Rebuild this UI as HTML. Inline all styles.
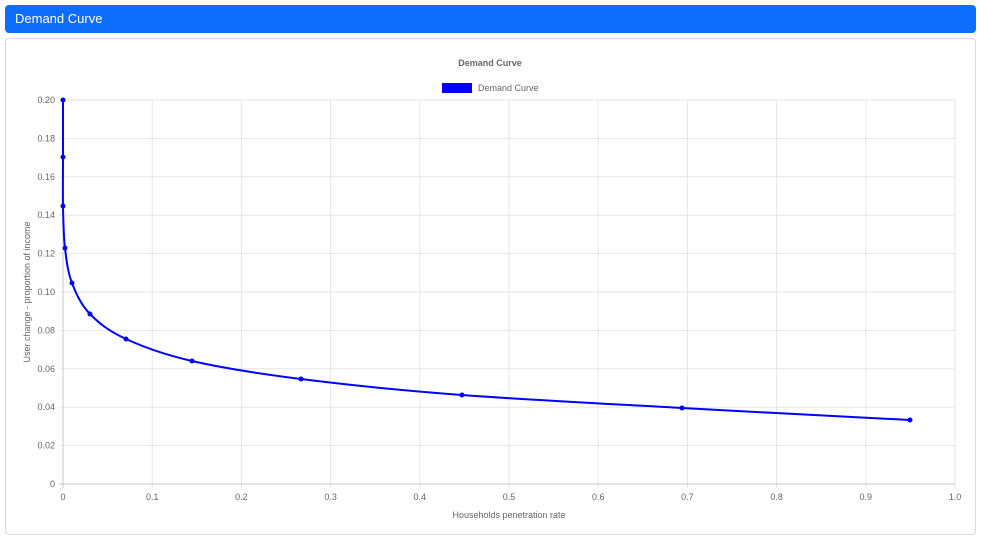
<!DOCTYPE html>
<html><head><style>
body{margin:0;width:987px;height:540px;background:#fff;font-family:"Liberation Sans",sans-serif;overflow:hidden;position:relative}
.hdr{position:absolute;left:5px;top:5px;width:971px;height:28px;background:#0d6efd;border-radius:4px;color:#fff;font-size:13px;line-height:28px;box-sizing:border-box;padding-left:10px}
.card{position:absolute;left:5px;top:38px;width:971px;height:497px;border:1px solid #d9d9d9;border-radius:4px;box-sizing:border-box}
svg{position:absolute;left:0;top:0}
text{font-family:"Liberation Sans",sans-serif;fill:#666;font-size:9px}
</style></head><body>
<div class="hdr">Demand Curve</div>
<div class="card"></div>
<svg width="987" height="540">
<g stroke="#e6e6e6" stroke-width="1">
<line x1="63" y1="100" x2="955" y2="100"/><line x1="63" y1="138.4" x2="955" y2="138.4"/><line x1="63" y1="176.8" x2="955" y2="176.8"/><line x1="63" y1="215.2" x2="955" y2="215.2"/><line x1="63" y1="253.6" x2="955" y2="253.6"/><line x1="63" y1="292" x2="955" y2="292"/><line x1="63" y1="330.4" x2="955" y2="330.4"/><line x1="63" y1="368.8" x2="955" y2="368.8"/><line x1="63" y1="407.2" x2="955" y2="407.2"/><line x1="63" y1="445.6" x2="955" y2="445.6"/>
<line x1="152.2" y1="100" x2="152.2" y2="488"/><line x1="241.4" y1="100" x2="241.4" y2="488"/><line x1="330.6" y1="100" x2="330.6" y2="488"/><line x1="419.8" y1="100" x2="419.8" y2="488"/><line x1="509" y1="100" x2="509" y2="488"/><line x1="598.2" y1="100" x2="598.2" y2="488"/><line x1="687.4" y1="100" x2="687.4" y2="488"/><line x1="776.6" y1="100" x2="776.6" y2="488"/><line x1="865.8" y1="100" x2="865.8" y2="488"/><line x1="955" y1="100" x2="955" y2="488"/>
<line x1="59" y1="100" x2="63" y2="100"/><line x1="59" y1="138.4" x2="63" y2="138.4"/><line x1="59" y1="176.8" x2="63" y2="176.8"/><line x1="59" y1="215.2" x2="63" y2="215.2"/><line x1="59" y1="253.6" x2="63" y2="253.6"/><line x1="59" y1="292" x2="63" y2="292"/><line x1="59" y1="330.4" x2="63" y2="330.4"/><line x1="59" y1="368.8" x2="63" y2="368.8"/><line x1="59" y1="407.2" x2="63" y2="407.2"/><line x1="59" y1="445.6" x2="63" y2="445.6"/>
</g>
<line x1="59" y1="484" x2="955" y2="484" stroke="#c8c8c8"/>
<line x1="63" y1="100" x2="63" y2="488" stroke="#c8c8c8"/>
<g text-anchor="end">
<text x="55" y="103">0.20</text><text x="55" y="141.4">0.18</text><text x="55" y="179.8">0.16</text><text x="55" y="218.2">0.14</text><text x="55" y="256.6">0.12</text><text x="55" y="295">0.10</text><text x="55" y="333.4">0.08</text><text x="55" y="371.8">0.06</text><text x="55" y="410.2">0.04</text><text x="55" y="448.6">0.02</text><text x="55" y="487">0</text>
</g>
<g text-anchor="middle">
<text x="63" y="500">0</text><text x="152.2" y="500">0.1</text><text x="241.4" y="500">0.2</text><text x="330.6" y="500">0.3</text><text x="419.8" y="500">0.4</text><text x="509" y="500">0.5</text><text x="598.2" y="500">0.6</text><text x="687.4" y="500">0.7</text><text x="776.6" y="500">0.8</text><text x="865.8" y="500">0.9</text><text x="955" y="500">1.0</text>
<text x="509" y="518">Households penetration rate</text>
<text x="490" y="66" style="font-weight:bold">Demand Curve</text>
<text transform="translate(30,292) rotate(-90)">User change - proportion of income</text>
</g>
<rect x="442" y="83" width="30" height="10" fill="#0000ff"/>
<text x="478" y="91">Demand Curve</text>
<path fill="none" stroke="#0000ff" stroke-width="2" d="M63,100 C63,109.5 63,139.3 63,157 C63,174.7 62.7,190.8 63,206 C63.3,221.2 63.5,235.2 65,248 C66.5,260.8 67.8,272 72,283 C76.2,294 81,304.7 90,314 C99,323.3 109,331.2 126,339 C143,346.8 162.8,354.3 192,361 C221.2,367.7 256,373.3 301,379 C346,384.7 398.5,390.2 462,395 C525.5,399.8 607.3,403.8 682,408 C756.7,412.2 872,418 910,420"/>
<g fill="#0000ff">
<circle cx="63" cy="100" r="2.5"/><circle cx="63" cy="157" r="2.5"/><circle cx="63" cy="206" r="2.5"/><circle cx="65" cy="248" r="2.5"/><circle cx="72" cy="283" r="2.5"/><circle cx="90" cy="314" r="2.5"/><circle cx="126" cy="339" r="2.5"/><circle cx="192" cy="361" r="2.5"/><circle cx="301" cy="379" r="2.5"/><circle cx="462" cy="395" r="2.5"/><circle cx="682" cy="408" r="2.5"/><circle cx="910" cy="420" r="2.5"/>
</g>
</svg>
</body></html>
